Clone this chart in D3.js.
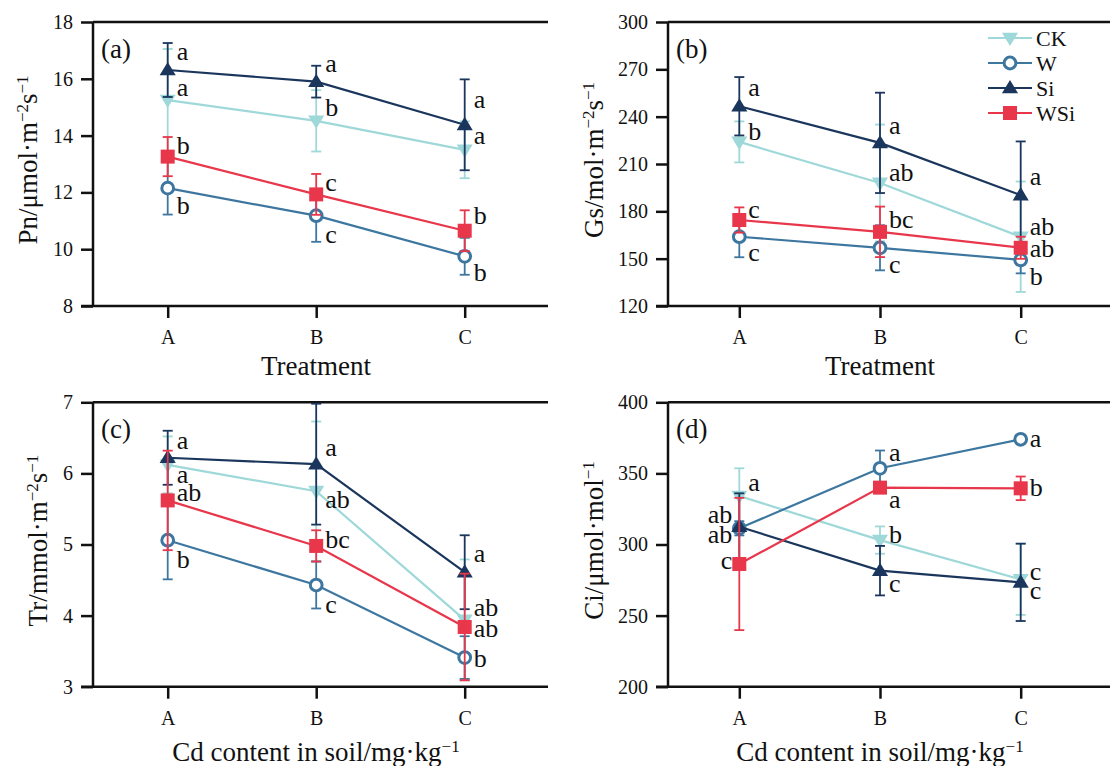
<!DOCTYPE html>
<html>
<head>
<meta charset="utf-8">
<script src="https://cdn.jsdelivr.net/npm/d3@7"></script>
<style>
  body { margin: 0; background: #fff; }
  svg, svg text { font-family: "Liberation Serif", "Times New Roman", serif; fill: #111; }
</style>
</head>
<body>
<div id="chart-area"></div>
<script>
// categories and series
var categories = ["A", "B", "C"];
var seriesNames = ["CK", "W", "Si", "WSi"];
var seriesColors = ["#9fd8d8", "#3d77a0", "#1b365c", "#e8364b"];
var seriesShapes = ["tri-down", "circle", "tri-up", "square"];

// (a) Pn  - rows: CK, W, Si, WSi
var pnMean = [[15.25, 14.52, 13.5], [12.15, 11.18, 9.75], [16.31, 15.9, 14.38], [13.26, 11.93, 10.65]];
var pnSd = [[1.8, 1.08, 1.0], [0.93, 0.92, 0.65], [0.95, 0.56, 1.6], [0.69, 0.72, 0.72]];
var pnLetters = [["a", "b", "a"], ["b", "c", "b"], ["a", "a", "a"], ["b", "c", "b"]];
var pnLabelAt = [[15.68, 14.96, 13.99], [11.53, 10.5, 9.16], [16.94, 16.52, 15.25], [13.64, 12.32, 11.17]];

// (b) Gs
var gsMean = [[224, 198, 163.9], [163.9, 156.9, 149.2], [246.6, 223.4, 190.3], [174.5, 167, 156.9]];
var gsSd = [[13, 37, 35], [13, 14.3, 8.5], [18.5, 31.8, 34], [8, 16, 7]];
var gsLetters = [["b", "ab", "ab"], ["c", "c", "b"], ["a", "a", "a"], ["c", "bc", "ab"]];
var gsLabelAt = [[230.4, 204, 169.8], [153.3, 145.9, 138.4], [257.8, 234, 201.8], [180.8, 174.4, 156.2]];

// (c) Tr
var trMean = [[6.12, 5.75, 3.94], [5.06, 4.43, 3.41], [6.22, 6.13, 4.61], [5.62, 4.98, 3.84]];
var trSd = [[0.4, 0.98, 0.85], [0.55, 0.33, 0.3], [0.38, 0.85, 0.52], [0.7, 0.22, 0.75]];
var trLetters = [["a", "ab", "ab"], ["b", "c", "b"], ["a", "a", "a"], ["ab", "bc", "ab"]];
var trLabelAt = [[5.97, 5.63, 4.1], [4.78, 4.15, 3.38], [6.45, 6.35, 4.86], [5.72, 5.06, 3.81]];

// (d) Ci
var ciMean = [[334.1, 303.1, 275.5], [311.4, 353.6, 374], [312.5, 281.6, 273.4], [286.3, 340, 339.5]];
var ciSd = [[19.5, 9.6, 25], [5, 12.5, 2], [23.5, 17.4, 27.2], [46.5, 2, 8.3]];
var ciLetters = [["a", "b", "c"], ["ab", "a", "a"], ["ab", "c", "c"], ["c", "a", "b"]];
var ciLabelAt = [[343, 306.7, 280.5], [320.5, 364.1, 374], [306.5, 272, 267.5], [288, 331.3, 339.5]];
var ciLabelLeft = [[false, false, false], [true, false, false], [true, false, false], [true, false, false]];

// y ticks
var pnTicks = [8, 10, 12, 14, 16, 18];
var gsTicks = [120, 150, 180, 210, 240, 270, 300];
var trTicks = [3, 4, 5, 6, 7];
var ciTicks = [200, 250, 300, 350, 400];

var svg = d3.select("#chart-area").append("svg")
    .attr("width", 1110)
    .attr("height", 766);

function drawShape(g, shape, color, size) {
    if (shape === "circle") {
        g.append("circle").attr("r", size * 0.42)
            .attr("fill", "#fff").attr("stroke", color).attr("stroke-width", 3);
    } else if (shape === "square") {
        g.append("rect").attr("x", -size / 2).attr("y", -size / 2)
            .attr("width", size).attr("height", size).attr("fill", color);
    } else {
        var s = shape === "tri-up" ? -1 : 1;
        var h = size * 0.95, w = size * 1.15;
        g.append("path")
            .attr("d", "M0," + (s * h * 0.6) + "L" + (w / 2) + "," + (-s * h * 0.4) + "L" + (-w / 2) + "," + (-s * h * 0.4) + "Z")
            .attr("fill", color);
    }
}

function addParts(t, parts) {
    parts.forEach(function (p) {
        var ts = t.append("tspan").text(p[0]);
        if (p[1]) ts.attr("baseline-shift", "super").style("font-size", "17px");
    });
}

function panel(opt) {
    var g = svg.append("g");
    var x = d3.scalePoint().domain(categories).range([opt.x0, opt.x1]);
    var y = d3.scaleLinear().domain([opt.ticks[0], opt.ticks[opt.ticks.length - 1]]).range([opt.bottom, opt.top]);

    // top frame line
    g.append("path")
        .attr("d", "M" + opt.left + "," + opt.top + "H" + opt.right)
        .attr("stroke", "#111").attr("stroke-width", 2.5).attr("fill", "none");

    var yAxis = g.append("g")
        .attr("transform", "translate(" + opt.left + ",0)")
        .call(d3.axisLeft(y).tickValues(opt.ticks).tickFormat(d3.format("d")).tickSize(12).tickPadding(8).tickSizeOuter(0));
    var xAxis = g.append("g")
        .attr("transform", "translate(0," + opt.bottom + ")")
        .call(d3.axisBottom(x).tickSize(12).tickPadding(12).tickSizeOuter(0));
    [yAxis, xAxis].forEach(function (a) {
        a.attr("font-family", null);
        a.selectAll(".domain, line").attr("stroke", "#111").attr("stroke-width", 2.5);
        a.selectAll("text").style("font-size", "20px").attr("fill", "#111");
    });
    yAxis.select(".domain").attr("d", "M0," + opt.top + "V" + opt.bottom);
    xAxis.select(".domain").attr("d", "M" + (opt.left - 12) + ",0H" + opt.right);

    g.append("text").attr("x", opt.left + 8).attr("y", opt.top + 36)
        .style("font-size", "27px").text(opt.tag);

    var line = d3.line().x(function (d, i) { return x(categories[i]); }).y(function (d) { return y(d); });

    seriesNames.forEach(function (name, s) {
        var col = seriesColors[s];
        var sg = g.append("g");
        sg.append("path").datum(opt.mean[s]).attr("d", line)
            .attr("fill", "none").attr("stroke", col).attr("stroke-width", 2.2);
        opt.mean[s].forEach(function (m, i) {
            var cx = x(categories[i]);
            var lo = y(m - opt.sd[s][i]), hi = y(m + opt.sd[s][i]);
            sg.append("line").attr("x1", cx).attr("x2", cx).attr("y1", lo).attr("y2", hi)
                .attr("stroke", col).attr("stroke-width", 1.8);
            [lo, hi].forEach(function (yy) {
                sg.append("line").attr("x1", cx - 5).attr("x2", cx + 5).attr("y1", yy).attr("y2", yy)
                    .attr("stroke", col).attr("stroke-width", 1.8);
            });
            var mk = sg.append("g").attr("transform", "translate(" + cx + "," + y(m) + ")");
            drawShape(mk, seriesShapes[s], col, 14);
        });
    });
    // significance letters
    seriesNames.forEach(function (name, s) {
        opt.letters[s].forEach(function (l, i) {
            var left = opt.labelLeft && opt.labelLeft[s][i];
            g.append("text")
                .attr("x", x(categories[i]) + (left ? -7 : 9))
                .attr("y", y(opt.labelAt[s][i]))
                .attr("dy", "0.3em")
                .attr("text-anchor", left ? "end" : "start")
                .style("font-size", "26px")
                .text(l);
        });
    });

    g.append("text").attr("x", opt.xTitleX).attr("y", opt.xTitleY)
        .attr("text-anchor", "middle").style("font-size", "27px")
        .call(addParts, opt.xTitle);
    g.append("text")
        .attr("transform", "translate(" + opt.yTitleX + "," + ((opt.top + opt.bottom) / 2 - 4) + ") rotate(-90)")
        .attr("text-anchor", "middle")
        .style("font-size", "27px")
        .call(addParts, opt.yTitle);
    return { g: g, x: x, y: y };
}

var treat = [["Treatment"]];
var cdTitle = [["Cd content in soil/mg·kg"], ["−1", true]];

panel({ tag: "(a)", left: 93, right: 548, top: 22, bottom: 306, x0: 167.7, x1: 464.7, ticks: pnTicks,
    mean: pnMean, sd: pnSd, letters: pnLetters, labelAt: pnLabelAt,
    xTitle: treat, xTitleX: 316, xTitleY: 375, yTitleX: 37,
    yTitle: [["Pn/μmol·m"], ["−2", true], ["s"], ["−1", true]] });

var pb = panel({ tag: "(b)", left: 668, right: 1112, top: 22, bottom: 306, x0: 739.3, x1: 1020.7, ticks: gsTicks,
    mean: gsMean, sd: gsSd, letters: gsLetters, labelAt: gsLabelAt,
    xTitle: treat, xTitleX: 880, xTitleY: 375, yTitleX: 603,
    yTitle: [["Gs/mol·m"], ["−2", true], ["s"], ["−1", true]] });

panel({ tag: "(c)", left: 93, right: 548, top: 402.3, bottom: 686.7, x0: 167.7, x1: 464.7, ticks: trTicks,
    mean: trMean, sd: trSd, letters: trLetters, labelAt: trLabelAt,
    xTitle: cdTitle, xTitleX: 316, xTitleY: 761, yTitleX: 47,
    yTitle: [["Tr/mmol·m"], ["−2", true], ["s"], ["−1", true]] });

panel({ tag: "(d)", left: 668, right: 1112, top: 402.3, bottom: 686.7, x0: 739.3, x1: 1020.7, ticks: ciTicks,
    mean: ciMean, sd: ciSd, letters: ciLetters, labelAt: ciLabelAt, labelLeft: ciLabelLeft,
    xTitle: cdTitle, xTitleX: 880, xTitleY: 761, yTitleX: 603,
    yTitle: [["Ci/μmol·mol"], ["−1", true]] });

// legend in panel (b)
var legend = pb.g.append("g").attr("transform", "translate(988,38)");
seriesNames.forEach(function (name, s) {
    var row = legend.append("g").attr("transform", "translate(0," + (s * 25) + ")");
    row.append("line").attr("x1", 0).attr("x2", 44).attr("stroke", seriesColors[s]).attr("stroke-width", 2.2);
    var mk = row.append("g").attr("transform", "translate(22,0)");
    drawShape(mk, seriesShapes[s], seriesColors[s], 14);
    row.append("text").attr("x", 48).attr("dy", "0.35em").style("font-size", "22px").text(name);
});
</script>
</body>
</html>
